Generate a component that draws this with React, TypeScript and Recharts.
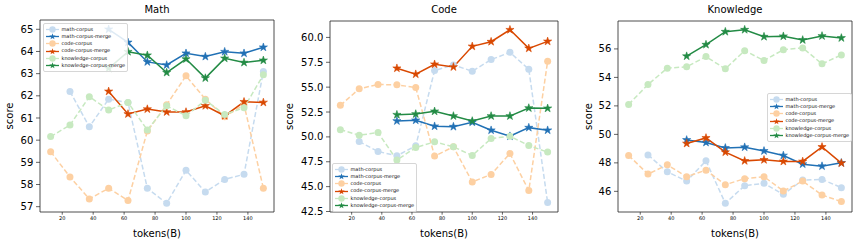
import React from 'react';
import { LineChart, Line, XAxis, YAxis, ReferenceArea } from 'recharts';

const FONT = '"DejaVu Sans", "Liberation Sans", sans-serif';

// x positions shared by all three panels
const tokens = [12.5, 25, 37.5, 50, 62.5, 75, 87.5, 100, 112.5, 125, 137.5, 150];
const xTicks = [20, 40, 60, 80, 100, 120, 140];

// Math panel
const mathMathCorpus = [null, 62.2, 60.6, 61.85, 61.7, 57.83, 57.15, 58.64, 57.66, 58.23, 58.46, 63.1];
const mathMathMerge = [null, null, null, 65.0, 64.41, 63.53, 63.39, 63.92, 63.77, 63.99, 63.92, 64.19];
const mathCodeCorpus = [59.48, 58.34, 57.35, 57.83, 57.28, 60.41, 61.6, 62.9, 61.85, 61.06, 61.6, 57.83];
const mathCodeMerge = [null, null, null, 62.2, 61.18, 61.4, 61.27, 61.27, 61.55, 61.1, 61.73, 61.7];
const mathKnowCorpus = [60.16, 60.68, 61.96, 61.36, 61.7, 60.46, 61.55, 61.1, 61.8, 61.16, 61.46, 62.95];
const mathKnowMerge = [null, null, null, 63.24, 63.99, 63.83, 63.05, 63.66, 62.8, 63.69, 63.5, 63.6];
const mathTicks = [57, 58, 59, 60, 61, 62, 63, 64, 65];

// Code panel
const codeMathCorpus = [null, 49.53, 48.53, 48.1, 49.1, 56.67, 57.23, 56.6, 57.77, 58.5, 56.8, 43.4];
const codeMathMerge = [null, null, null, 51.6, 51.67, 51.07, 51.03, 51.47, 50.67, 50.07, 50.93, 50.67];
const codeCodeCorpus = [53.17, 54.83, 55.27, 55.23, 54.97, 48.07, 49.0, 45.47, 46.23, 48.33, 44.6, 57.6];
const codeCodeMerge = [null, null, null, 56.9, 56.3, 57.3, 57.03, 59.1, 59.57, 60.77, 58.9, 59.6];
const codeKnowCorpus = [50.73, 50.17, 50.43, 47.67, 48.93, 49.5, 49.0, 48.13, 49.83, 50.07, 49.13, 48.47];
const codeKnowMerge = [null, null, null, 52.23, 52.3, 52.57, 52.1, 51.6, 52.1, 52.1, 52.9, 52.87];
const codeTicks = [42.5, 45, 47.5, 50, 52.5, 55, 57.5, 60];

// Knowledge panel
const knowMathCorpus = [null, 48.56, 47.37, 46.72, 48.14, 45.16, 46.4, 46.56, 45.79, 46.79, 46.84, 46.26];
const knowMathMerge = [null, null, null, 49.61, 49.43, 49.05, 49.1, 48.84, 48.52, 47.91, 47.77, 48.0];
const knowCodeCorpus = [48.52, 47.21, 47.86, 47.03, 47.49, 46.47, 46.89, 47.03, 46.02, 46.72, 45.74, 45.28];
const knowCodeMerge = [null, null, null, 49.36, 49.75, 48.75, 48.14, 48.21, 48.1, 48.1, 49.12, 47.98];
const knowKnowCorpus = [52.1, 53.5, 54.65, 54.74, 55.46, 54.6, 55.88, 55.18, 55.95, 56.07, 54.95, 55.58];
const knowKnowMerge = [null, null, null, 55.49, 56.3, 57.21, 57.35, 56.86, 56.89, 56.63, 56.91, 56.77];
const knowTicks = [46, 48, 50, 52, 54, 56];

const seriesNames = [
  'math-corpus',
  'math-corpus-merge',
  'code-corpus',
  'code-corpus-merge',
  'knowledge-corpus',
  'knowledge-corpus-merge',
];

const seriesStyle = [
  { color: '#c6dbef', merge: false },
  { color: '#2171b5', merge: true },
  { color: '#fdd0a2', merge: false },
  { color: '#d94801', merge: true },
  { color: '#c7e9c0', merge: false },
  { color: '#238b45', merge: true },
];

const buildRows = (cols: (number | null)[][]) =>
  tokens.map((t, i) => {
    const row: any = { tokens: t };
    seriesNames.forEach((n, k) => {
      row[n] = cols[k][i];
    });
    return row;
  });

const starPoints = (cx: number, cy: number, R: number) => {
  const r = R * 0.382;
  const pts: string[] = [];
  for (let i = 0; i < 10; i++) {
    const rad = i % 2 === 0 ? R : r;
    const a = -Math.PI / 2 + (i * Math.PI) / 5;
    pts.push(`${cx + rad * Math.cos(a)},${cy + rad * Math.sin(a)}`);
  }
  return pts.join(' ');
};

const makeStar = (color: string) => (props: any) => {
  const { cx, cy, value, index } = props;
  if (cx == null || cy == null || value == null) return <g key={`s-${index}`} />;
  return <polygon key={`s-${index}`} points={starPoints(cx, cy, 4.3)} fill={color} stroke={color} strokeWidth={0.6} />;
};

const X_DOMAIN: [number, number] = [5.625, 156.875];

const LegendBox = ({ left, top }: { left: number; top: number }) => (
  <div
    style={{
      position: 'absolute',
      left,
      top,
      border: '1px solid #d6d6d6',
      borderRadius: 2,
      background: 'rgba(255,255,255,0.85)',
      padding: '1.5px 2px',
      fontFamily: FONT,
      fontSize: 5,
      lineHeight: '7.3px',
      color: '#111',
      zIndex: 5,
    }}
  >
    {seriesNames.map((n, k) => {
      const s = seriesStyle[k];
      return (
        <div key={n} style={{ display: 'flex', alignItems: 'center', height: 7.3, whiteSpace: 'nowrap' }}>
          <svg width={13} height={7} style={{ display: 'block' }}>
            <line x1={0} y1={3.5} x2={13} y2={3.5} stroke={s.color} strokeWidth={1.3} />
            {s.merge ? (
              <polygon points={starPoints(6.5, 3.6, 3.4)} fill={s.color} />
            ) : (
              <circle cx={6.5} cy={3.5} r={3.2} fill={s.color} />
            )}
          </svg>
          <span style={{ marginLeft: 2.5 }}>{n}</span>
        </div>
      );
    })}
  </div>
);

interface PanelProps {
  left: number;
  width: number;
  yWidth: number;
  right: number;
  top: number;
  title: string;
  rows: any[];
  yDomain: [number, number];
  yTicks: number[];
  yFmt: (v: number) => string;
  labelOffset: number;
  legend: { left: number; top: number };
}

const Panel = ({ left, width, yWidth, right, top, title, rows, yDomain, yTicks, yFmt, labelOffset, legend }: PanelProps) => {
  const plotLeft = yWidth;
  const plotWidth = width - yWidth - right;
  return (
    <div style={{ position: 'absolute', left, top: 0, width, height: 245 }}>
      <div
        style={{
          position: 'absolute',
          left: plotLeft,
          width: plotWidth,
          top: 4,
          textAlign: 'center',
          fontFamily: FONT,
          fontSize: 10,
          color: '#000',
        }}
      >
        {title}
      </div>
      <LineChart width={width} height={245} data={rows} margin={{ top, right, bottom: 0, left: 0 }}>
        <XAxis
          dataKey="tokens"
          type="number"
          domain={X_DOMAIN}
          ticks={xTicks}
          allowDataOverflow
          axisLine={false}
          tickLine={{ stroke: '#222', strokeWidth: 0.7 }}
          tickSize={2.7}
          tickMargin={1.5}
          height={33}
          tick={{ fontFamily: FONT, fontSize: 5, fill: '#000' }}
          label={{ value: 'tokens(B)', position: 'insideBottom', offset: 8, style: { fontFamily: FONT, fontSize: 10, fill: '#000' } }}
        />
        <YAxis
          type="number"
          domain={yDomain}
          ticks={yTicks}
          interval={0}
          allowDataOverflow
          width={yWidth}
          axisLine={false}
          tickLine={{ stroke: '#222', strokeWidth: 0.7 }}
          tickSize={4}
          tickMargin={2.7}
          tickFormatter={yFmt}
          tick={{ fontFamily: FONT, fontSize: 10, fill: '#000' }}
          label={{ value: 'score', angle: -90, position: 'insideLeft', offset: labelOffset, style: { fontFamily: FONT, fontSize: 10, fill: '#000', textAnchor: 'middle' } }}
        />
        <ReferenceArea
          x1={X_DOMAIN[0]}
          x2={X_DOMAIN[1]}
          y1={yDomain[0]}
          y2={yDomain[1]}
          fill="none"
          fillOpacity={0}
          stroke="#222"
          strokeWidth={0.8}
        />
        {seriesNames.map((n, k) => {
          const s = seriesStyle[k];
          return s.merge ? (
            <Line
              key={n}
              dataKey={n}
              stroke={s.color}
              strokeWidth={1.5}
              dot={makeStar(s.color)}
              activeDot={false}
              isAnimationActive={false}
              connectNulls={false}
              type="linear"
            />
          ) : (
            <Line
              key={n}
              dataKey={n}
              stroke={s.color}
              strokeWidth={1.5}
              strokeDasharray="5 2.5"
              dot={{ r: 3.5, fill: s.color, stroke: s.color, strokeWidth: 0, strokeDasharray: '' }}
              activeDot={false}
              isAnimationActive={false}
              connectNulls={false}
              type="linear"
            />
          );
        })}
      </LineChart>
      <LegendBox left={legend.left} top={legend.top} />
    </div>
  );
};

export default function App() {
  const mathRows = buildRows([mathMathCorpus, mathMathMerge, mathCodeCorpus, mathCodeMerge, mathKnowCorpus, mathKnowMerge]);
  const codeRows = buildRows([codeMathCorpus, codeMathMerge, codeCodeCorpus, codeCodeMerge, codeKnowCorpus, codeKnowMerge]);
  const knowRows = buildRows([knowMathCorpus, knowMathMerge, knowCodeCorpus, knowCodeMerge, knowKnowCorpus, knowKnowMerge]);

  return (
    <div style={{ position: 'absolute', left: 0, top: 0, width: 859, height: 245, background: '#fff', overflow: 'hidden' }}>
      <Panel
        left={0}
        width={285}
        yWidth={40}
        right={11}
        top={20}
        title="Math"
        rows={mathRows}
        yDomain={[56.76, 65.42]}
        yTicks={mathTicks}
        yFmt={(v) => String(v)}
        labelOffset={9.5}
        legend={{ left: 43, top: 23 }}
      />
      <Panel
        left={285}
        width={285}
        yWidth={45}
        right={12}
        top={21}
        title="Code"
        rows={codeRows}
        yDomain={[42.45, 61.65]}
        yTicks={codeTicks}
        yFmt={(v) => v.toFixed(1)}
        labelOffset={4.3}
        legend={{ left: 47, top: 163 }}
      />
      <Panel
        left={570}
        width={289}
        yWidth={48}
        right={7}
        top={21}
        title="Knowledge"
        rows={knowRows}
        yDomain={[44.55, 57.96]}
        yTicks={knowTicks}
        yFmt={(v) => String(v)}
        labelOffset={18}
        legend={{ left: 197, top: 93 }}
      />
    </div>
  );
}
